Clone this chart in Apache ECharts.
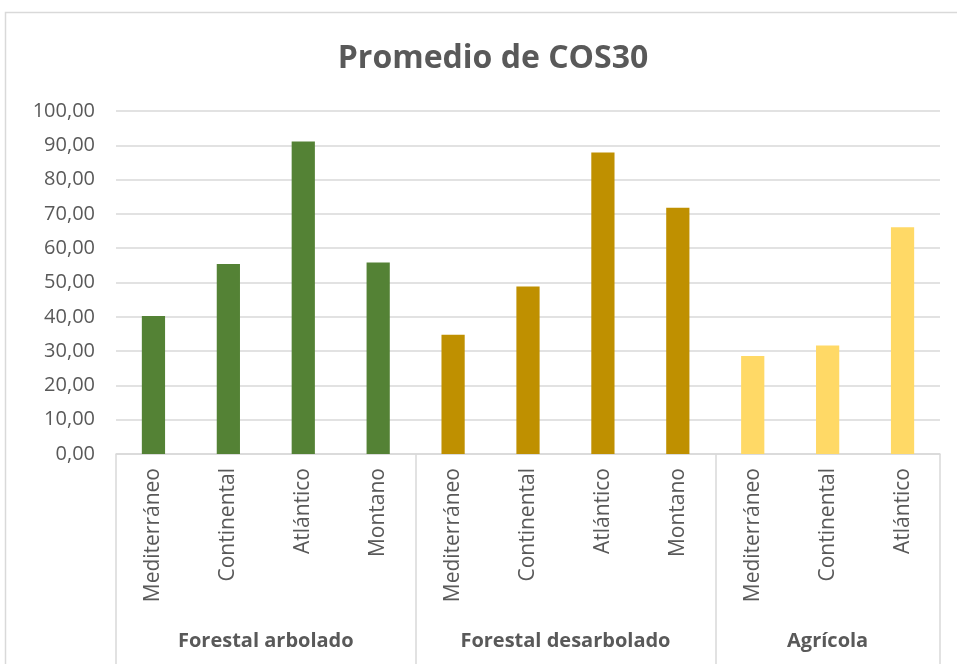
<!DOCTYPE html>
<html><head><meta charset="utf-8">
<script src="https://cdn.jsdelivr.net/npm/echarts@6/dist/echarts.min.js"></script>
<style>html,body{margin:0;padding:0;background:#fff}#c{width:957px;height:664px}</style>
</head><body><div id="c"></div>
<script>
const categories = ['Mediterráneo','Continental','Atlántico','Montano','Mediterráneo','Continental','Atlántico','Montano','Mediterráneo','Continental','Atlántico'];
const groups = ['Forestal arbolado','Forestal desarbolado','Agrícola'];
const groupSizes = [4,4,3];
const groupColors = ['#548235','#BF9000','#FFD966'];
const values = [40.2,55.4,91.1,55.8,34.8,48.8,87.9,71.8,28.6,31.6,66.1];
const yTicks = [0,10,20,30,40,50,60,70,80,90,100];

const FONT = 'Open Sans';
const GRAY = '#595959';
const LINE = '#d9d9d9';

// group boundaries and centers on a 0..N value axis
const bounds = [0]; groupSizes.forEach(s => bounds.push(bounds[bounds.length-1]+s));
const centers = groupSizes.map((s,i)=> bounds[i] + s/2);
const itemColors = []; groupSizes.forEach((s,i)=>{ for(let k=0;k<s;k++) itemColors.push(groupColors[i]); });

const chart = echarts.init(document.getElementById('c'), null, {renderer:'canvas'});
chart.setOption({
  animation:false,
  backgroundColor:'#fff',
  title:{text:'Promedio de COS30', left:488, top:38, textAlign:'center',
    textStyle:{fontFamily:FONT, fontSize:32, fontWeight:'bold', color:GRAY}},
  graphic:[{type:'rect', shape:{x:5.5,y:12.5,width:1000,height:700}, style:{fill:null, stroke:LINE, lineWidth:1.5}, z:-1}],
  grid:{left:116, right:17, top:111, bottom:210, containLabel:false},
  xAxis:[{
    type:'category', data:categories, position:'bottom',
    axisLine:{show:true, lineStyle:{color:LINE, width:1.5}},
    axisTick:{show:false},
    axisLabel:{rotate:90, margin:14, fontFamily:FONT, fontSize:21, color:GRAY}
  },{
    type:'value', min:0, max:bounds[bounds.length-1], position:'bottom',
    axisLine:{show:false},
    splitLine:{show:false},
    axisTick:{show:true, customValues:bounds, length:215, lineStyle:{color:LINE, width:1.5}},
    axisLabel:{show:true, customValues:centers, margin:177, fontFamily:FONT, fontSize:20, fontWeight:'bold', color:GRAY,
      formatter:(v)=>{ const i = centers.indexOf(v); return i>=0 ? groups[i] : ''; }}
  }],
  yAxis:{
    type:'value', min:yTicks[0], max:yTicks[yTicks.length-1], interval:10,
    axisLine:{show:false}, axisTick:{show:false},
    splitLine:{lineStyle:{color:LINE, width:1.5}},
    axisLabel:{margin:21, fontFamily:FONT, fontSize:20, color:GRAY,
      formatter:(v)=> v.toFixed(2).replace('.',',')}
  },
  series:[{
    type:'bar', xAxisIndex:0, barWidth:'31%',
    data: values.map((v,i)=>({value:v, itemStyle:{color:itemColors[i]}}))
  }]
});
</script></body></html>
